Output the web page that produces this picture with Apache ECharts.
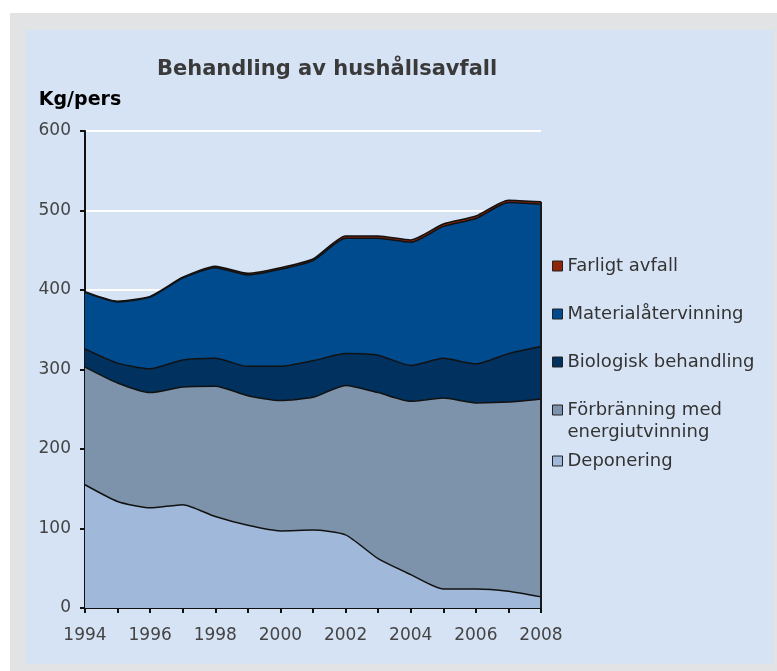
<!DOCTYPE html>
<html>
<head>
<meta charset="utf-8">
<script src="https://cdn.jsdelivr.net/npm/echarts@6/dist/echarts.min.js"></script>
<style>
body{margin:0;background:#fff;}
#frame{position:absolute;left:10px;top:13px;width:767px;height:658px;background:#e2e3e5;}
#panel{position:absolute;left:26px;top:30px;width:747px;height:634px;background:#d6e3f5;}
#chart{position:absolute;left:0;top:0;width:777px;height:671px;}
</style>
</head>
<body>
<div id="frame"></div>
<div id="panel"></div>
<div id="chart"></div>
<script>
var years = ['1994','1995','1996','1997','1998','1999','2000','2001','2002','2003','2004','2005','2006','2007','2008'];
var deponering = [155,134,126,130,115,104,97,98,92,62,42,24,24,21,14];
var forbranning = [148,149,145,148,164,163,164,167,188,209,218,240,234,238,249];
var biologisk = [23,25,30,34,35,37,43,46,40,47,45,50,49,61,66];
var material = [71,77,90,103,114,115,122,126,145,147,155,166,183,190,179];
var farligt = [1,1,1,1,2,2,2,2,3,3,3,3,3,3,3];

var names = ['Deponering','Förbränning med energiutvinning','Biologisk behandling','Materialåtervinning','Farligt avfall'];
var colors = ['#a0b9da','#7d93ab','#00315f','#004a8e','#902408'];
var values = [deponering, forbranning, biologisk, material, farligt];
// legend row tops (one legend per item)
var legendTops = [450, 377, 351, 303, 255];

var font = 'DejaVu Sans';
var last = years.length - 1;
var total = deponering[last] + forbranning[last] + biologisk[last] + material[last] + farligt[last];

var series = [];
var legends = [];
for (var i = 0; i < names.length; i++) {
	var s = {
		name: names[i],
		type: 'line',
		stack: 'tot',
		smooth: 0.2,
		symbol: 'none',
		data: values[i],
		itemStyle: {color: colors[i], borderColor: '#222', borderWidth: 1},
		lineStyle: {color: '#111', width: 1.5},
		areaStyle: {color: colors[i], opacity: 1},
		z: 2
	};
	if (i == names.length - 1) {
		s.markLine = {
			silent: true,
			symbol: 'none',
			label: {show: false},
			lineStyle: {color: '#1a1a1a', width: 2, type: 'solid'},
			data: [[{coord: [years[last], 0]}, {coord: [years[last], total]}]]
		};
	}
	series.push(s);
	var lg = {
		data: [names[i]],
		left: 552,
		top: legendTops[i],
		padding: 0,
		itemWidth: 10,
		itemHeight: 10,
		icon: 'rect',
		selectedMode: false,
		itemStyle: {borderColor: '#222', borderWidth: 1},
		textStyle: {fontFamily: font, fontSize: 18, color: '#333', lineHeight: 22}
	};
	if (i == 1) {
		// blank first line keeps the icon level with "Förbränning med"
		lg.formatter = function () { return ' \nFörbränning med\nenergiutvinning'; };
	}
	legends.push(lg);
}

var my_chart = echarts.init(document.getElementById('chart'));
my_chart.setOption({
	backgroundColor: 'transparent',
	animation: false,
	title: {
		text: 'Behandling av hushållsavfall',
		left: 152,
		top: 54,
		textStyle: {fontFamily: font, fontSize: 21, fontWeight: 'bold', color: '#3a3a3a'}
	},
	legend: legends,
	grid: {left: 85, right: 236, top: 131, bottom: 63},
	xAxis: {
		type: 'category',
		boundaryGap: false,
		data: years,
		axisLine: {lineStyle: {color: '#111', width: 2}},
		axisTick: {interval: 0, length: 5, lineStyle: {color: '#111', width: 2}},
		axisLabel: {interval: 1, margin: 19, fontFamily: font, fontSize: 17, color: '#444'}
	},
	yAxis: {
		type: 'value',
		min: 0,
		max: 600,
		interval: 100,
		name: 'Kg/pers',
		nameLocation: 'end',
		nameGap: 21,
		nameTextStyle: {fontFamily: font, fontSize: 19, fontWeight: 'bold', color: '#000', align: 'center', padding: [0, 10, 0, 0]},
		axisLine: {show: true, lineStyle: {color: '#111', width: 2}},
		axisTick: {show: true, length: 5, lineStyle: {color: '#111', width: 2}},
		axisLabel: {margin: 14, fontFamily: font, fontSize: 17, color: '#444'},
		splitLine: {lineStyle: {color: '#ffffff', width: 2}}
	},
	series: series
});
</script>
</body>
</html>
